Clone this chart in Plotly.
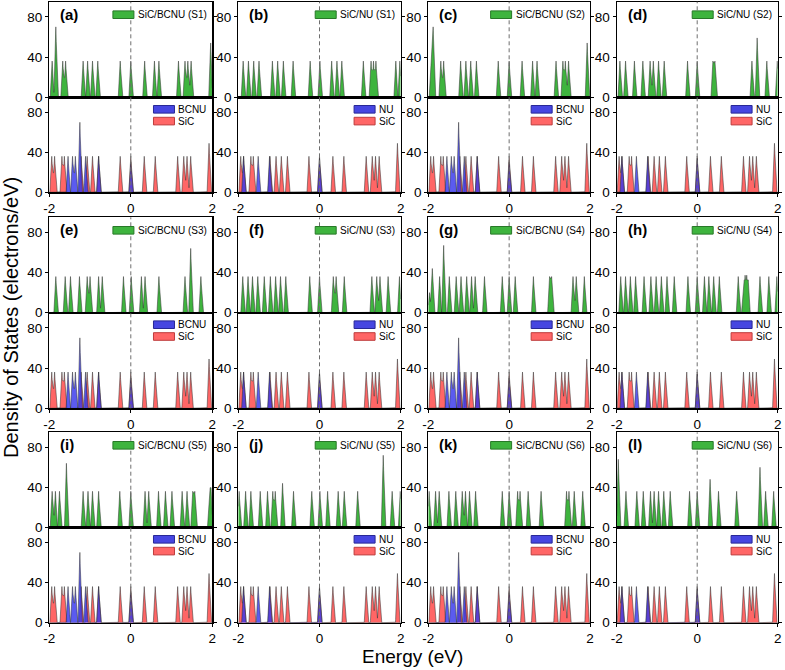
import numpy as np
import plotly.graph_objects as go

# ------------------------------------------------------------------
# DATA (peak energies in eV and peak heights in electrons/eV)
# ------------------------------------------------------------------
X_TICKS = [-2, 0, 2]
X_TICK_TEXT = ["-2", "0", "2"]
Y_TICKS = [0, 40, 80]
Y_TICK_TEXT = ["0", "40", "80"]

PANEL_LABELS = ["(a)", "(b)", "(c)", "(d)", "(e)", "(f)",
                "(g)", "(h)", "(i)", "(j)", "(k)", "(l)"]
TOTAL_NAMES = ["SiC/BCNU (S1)", "SiC/NU (S1)", "SiC/BCNU (S2)", "SiC/NU (S2)",
               "SiC/BCNU (S3)", "SiC/NU (S3)", "SiC/BCNU (S4)", "SiC/NU (S4)",
               "SiC/BCNU (S5)", "SiC/NU (S5)", "SiC/BCNU (S6)", "SiC/NU (S6)"]
ADSORBATE_NAMES = ["BCNU", "NU"] * 6
SUBSTRATE_NAME = "SiC"

# total DOS of each complex (top sub-panels)
a_E = [-1.93, -1.84, -1.67, -1.60, -1.17, -1.06, -0.94, -0.81, -0.26, 0.00, 0.34, 0.58, 0.69, 1.17, 1.33, 1.40, 1.48, 1.96]
a_H = [36, 70, 36, 36, 36, 36, 36, 36, 36, 36, 36, 36, 36, 36, 36, 36, 36, 54]

b_E = [-1.88, -1.75, -1.62, -1.49, -1.16, -1.03, -0.89, -0.65, -0.23, 0.01, 0.30, 0.43, 0.55, 1.08, 1.27, 1.33, 1.39, 1.88, 1.98]
b_H = [36, 36, 36, 36, 36, 36, 36, 36, 36, 36, 36, 36, 36, 36, 36, 36, 36, 36, 36]

c_E = [-1.93, -1.88, -1.69, -1.62, -1.20, -1.07, -0.95, -0.81, -0.27, 0.00, 0.32, 0.58, 0.69, 1.16, 1.33, 1.39, 1.47, 1.93]
c_H = [36, 70, 36, 36, 36, 36, 36, 36, 36, 36, 36, 36, 36, 36, 36, 36, 36, 54]

d_E = [-1.92, -1.78, -1.56, -1.35, -1.17, -1.09, -0.96, -0.82, -0.24, 0.00, 0.39, 0.44, 1.36, 1.49, 1.73, 1.99]
d_H = [36, 36, 36, 36, 36, 36, 36, 36, 36, 36, 36, 36, 36, 59, 36, 36]

e_E = [-1.84, -1.61, -1.48, -1.26, -1.07, -1.00, -0.79, -0.70, -0.18, 0.01, 0.26, 0.35, 0.69, 1.33, 1.47, 1.72]
e_H = [36, 36, 36, 36, 36, 36, 36, 36, 36, 36, 36, 36, 36, 36, 64, 36]

f_E = [-1.89, -1.76, -1.65, -1.52, -1.36, -1.21, -1.08, -0.96, -0.83, -0.24, 0.00, 0.34, 0.41, 0.61, 1.29, 1.41, 1.49, 1.69, 1.97]
f_H = [36, 36, 36, 36, 36, 36, 36, 36, 36, 36, 36, 36, 36, 36, 36, 36, 36, 36, 36]

g_E = [-1.97, -1.90, -1.72, -1.62, -1.48, -1.31, -1.19, -1.05, -0.93, -0.84, -0.61, -0.17, 0.00, 0.15, 0.60, 1.00, 1.05, 1.58, 1.66, 1.86]
g_H = [20, 44, 36, 67, 36, 36, 36, 36, 36, 36, 36, 36, 36, 36, 36, 36, 36, 36, 36, 36]

h_E = [-1.90, -1.78, -1.66, -1.53, -1.32, -1.15, -1.02, -0.89, -0.75, -0.57, -0.23, 0.00, 0.18, 0.29, 0.41, 0.55, 1.02, 1.15, 1.19, 1.23, 1.27, 1.56, 1.78, 1.98]
h_H = [36, 36, 36, 36, 36, 36, 36, 36, 36, 36, 36, 36, 36, 36, 36, 36, 36, 28, 28, 28, 28, 36, 36, 36]

i_E = [-1.93, -1.85, -1.75, -1.58, -1.17, -1.05, -0.94, -0.79, -0.27, 0.00, 0.35, 0.44, 0.68, 0.85, 1.01, 1.26, 1.38, 1.52, 1.57, 1.93, 1.97]
i_H = [36, 36, 36, 64, 36, 36, 36, 36, 36, 36, 36, 36, 36, 36, 36, 36, 36, 36, 36, 34, 34]

j_E = [-1.98, -1.82, -1.69, -1.46, -1.28, -1.15, -1.09, -0.91, -0.64, -0.19, 0.01, 0.20, 0.46, 0.61, 0.94, 1.57, 1.79, 1.99]
j_H = [36, 36, 36, 36, 36, 36, 36, 44, 36, 36, 36, 36, 36, 36, 36, 72, 36, 36]

k_E = [-1.98, -1.82, -1.73, -1.49, -1.32, -1.16, -1.08, -0.98, -0.83, -0.17, 0.00, 0.21, 0.27, 0.47, 0.79, 1.42, 1.48, 1.61, 1.82]
k_H = [36, 36, 36, 36, 36, 36, 36, 36, 36, 36, 36, 36, 36, 36, 36, 36, 36, 36, 36]

l_E = [-1.96, -1.77, -1.50, -1.34, -1.16, -1.07, -0.96, -0.83, -0.67, -0.19, 0.00, 0.32, 0.53, 0.98, 1.56, 1.70, 1.90]
l_H = [68, 36, 36, 36, 36, 36, 36, 36, 36, 36, 36, 48, 36, 36, 60, 36, 36]

# projected DOS (bottom sub-panels)
SIC_E = [-1.94, -1.87, -1.69, -1.63, -1.22, -1.07, -0.94, -0.79, -0.26, 0.00, 0.33, 0.60, 1.15, 1.30, 1.38, 1.47, 1.92]
SIC_H = [36, 36, 36, 36, 36, 36, 36, 36, 36, 36, 36, 36, 36, 36, 36, 36, 49]

BCNU_E = [-1.54, -1.43, -1.36, -1.25, -1.11, -0.79, 0.00]
BCNU_H = [36, 36, 36, 70, 36, 36, 30]

NU_E = [-1.87, -1.51, -1.23, 0.00]
NU_H = [36, 36, 36, 34]

TOTAL_PEAKS = [(a_E, a_H), (b_E, b_H), (c_E, c_H), (d_E, d_H), (e_E, e_H), (f_E, f_H),
               (g_E, g_H), (h_E, h_H), (i_E, i_H), (j_E, j_H), (k_E, k_H), (l_E, l_H)]
ADSORBATE_PEAKS = {"BCNU": (BCNU_E, BCNU_H), "NU": (NU_E, NU_H)}

# ------------------------------------------------------------------
# STYLE / LAYOUT
# ------------------------------------------------------------------
W, H = 785, 670
FONT = "Liberation Sans, Arial, sans-serif"
GREEN = "rgb(62,180,62)"
GREEN_EDGE = "rgb(40,120,40)"
RED = "rgb(255,102,102)"
RED_SW = "rgb(255,102,102)"
RED_EDGE = "rgb(190,60,60)"
BLUE = "rgba(55,55,235,0.82)"
BLUE_SW = "rgb(70,70,225)"
BLUE_EDGE = "rgb(40,40,150)"
OUTLINE = "rgba(55,55,55,0.9)"

COLS_PX = [(49.3, 212.3), (238.3, 400.7), (428.3, 590.0), (616.7, 777.7)]
ROWS_PX = [(1.7, 97.3, 192.3), (217.3, 312.7, 408.3), (432.3, 527.3, 622.7)]
HALF_WIDTH = 0.048
GRID = np.linspace(-2, 2, 1601)

CHAR_W = {"S": .667, "i": .222, "C": .722, "/": .278, "B": .667, "N": .722,
          "U": .722, " ": .278, "(": .333, ")": .333}


def text_width(s, size):
    return sum(CHAR_W.get(ch, .556) for ch in s) * size


def px_x(px):
    return px / W


def px_y(py):
    return 1 - py / H


def broaden(E, Hh):
    y = np.zeros_like(GRID)
    for e, h in zip(E, Hh):
        y += h * np.clip(1 - np.abs(GRID - e) / HALF_WIDTH, 0, None)
    return y


fig = go.Figure()
shapes = []
annotations = []
layout = {}


def axis_setup(n, xdom, ydom, bottom):
    sfx = "" if n == 1 else str(n)
    layout["xaxis" + sfx] = dict(
        domain=xdom, range=[-2, 2], anchor="y" + sfx,
        showline=True, mirror=True, linecolor="black", linewidth=1.2,
        ticks="outside" if bottom else "", ticklen=3, tickwidth=1, tickcolor="black",
        tickvals=X_TICKS, ticktext=X_TICK_TEXT, showticklabels=bottom,
        tickfont=dict(family=FONT, size=13.5, color="black"),
        showgrid=False, zeroline=False, fixedrange=True, automargin=False)
    layout["yaxis" + sfx] = dict(
        domain=ydom, range=[0, 95], anchor="x" + sfx,
        showline=True, mirror="ticks", linecolor="black", linewidth=1.2,
        ticks="outside", ticklen=3, tickwidth=1, tickcolor="black",
        tickvals=Y_TICKS, ticktext=Y_TICK_TEXT,
        tickfont=dict(family=FONT, size=13.5, color="black"),
        showgrid=False, zeroline=False, fixedrange=True, automargin=False)
    return "x" + sfx, "y" + sfx


def legend(entries, right_px, top_px, first_offset):
    size = 10
    maxw = max(text_width(t, size) for t, _, _ in entries)
    text_left = right_px - 7.5 - maxw
    for j, (t, fill, edge) in enumerate(entries):
        cy = top_px + first_offset + j * 11.8
        shapes.append(dict(type="rect", xref="paper", yref="paper",
                           x0=px_x(text_left - 23), x1=px_x(text_left - 2),
                           y0=px_y(cy + 3.8), y1=px_y(cy - 3.8),
                           fillcolor=fill, line=dict(color=edge, width=1), layer="above"))
        annotations.append(dict(text=t, xref="paper", yref="paper",
                                x=px_x(text_left), y=px_y(cy), xanchor="left", yanchor="middle",
                                showarrow=False, font=dict(family=FONT, size=size, color="black")))


for k in range(12):
    r, c = divmod(k, 4)
    x0, x1 = COLS_PX[c]
    ytop, ymid, ybot = ROWS_PX[r]
    xdom = [px_x(x0), px_x(x1)]
    n_top, n_bot = 2 * k + 1, 2 * k + 2
    xa_t, ya_t = axis_setup(n_top, xdom, [px_y(ymid), px_y(ytop)], False)
    xa_b, ya_b = axis_setup(n_bot, xdom, [px_y(ybot), px_y(ymid)], True)

    E, Hh = TOTAL_PEAKS[k]
    fig.add_trace(go.Scatter(x=GRID, y=broaden(E, Hh), mode="lines", fill="tozeroy",
                             fillcolor=GREEN, line=dict(color=OUTLINE, width=0.6),
                             xaxis=xa_t, yaxis=ya_t, showlegend=False, hoverinfo="skip"))

    ads = ADSORBATE_NAMES[k]
    aE, aH = ADSORBATE_PEAKS[ads]
    fig.add_trace(go.Scatter(x=GRID, y=broaden(SIC_E, SIC_H), mode="lines", fill="tozeroy",
                             fillcolor=RED, line=dict(color=OUTLINE, width=0.6),
                             xaxis=xa_b, yaxis=ya_b, showlegend=False, hoverinfo="skip"))
    fig.add_trace(go.Scatter(x=GRID, y=broaden(aE, aH), mode="lines", fill="tozeroy",
                             fillcolor=BLUE, line=dict(color=OUTLINE, width=0.6),
                             xaxis=xa_b, yaxis=ya_b, showlegend=False, hoverinfo="skip"))

    # dashed Fermi level line through both sub-panels
    shapes.append(dict(type="line", xref=xa_b, yref="paper", x0=0, x1=0,
                       y0=px_y(ybot), y1=px_y(ytop),
                       line=dict(color="rgb(110,110,110)", width=1, dash="4px,3px"), layer="above"))

    annotations.append(dict(text="<b>%s</b>" % PANEL_LABELS[k], xref="paper", yref="paper",
                            x=px_x(x0 + 9), y=px_y(ytop + 12.5), xanchor="left", yanchor="middle",
                            showarrow=False, font=dict(family=FONT, size=15, color="black")))

    legend([(TOTAL_NAMES[k], GREEN, GREEN_EDGE)], x1, ytop, 13)
    legend([(ads, BLUE_SW, BLUE_EDGE), (SUBSTRATE_NAME, RED_SW, RED_EDGE)], x1, ymid, 12)

annotations.append(dict(text="Density of States (electrons/eV)", xref="paper", yref="paper",
                        x=px_x(11), y=px_y(318), xanchor="center", yanchor="middle",
                        textangle=-90, showarrow=False,
                        font=dict(family=FONT, size=20, color="black")))
annotations.append(dict(text="Energy (eV)", xref="paper", yref="paper",
                        x=px_x(412), y=px_y(656), xanchor="center", yanchor="middle",
                        showarrow=False, font=dict(family=FONT, size=19, color="black")))

fig.update_layout(width=W, height=H, margin=dict(l=0, r=0, t=0, b=0),
                  paper_bgcolor="white", plot_bgcolor="white",
                  shapes=shapes, annotations=annotations, showlegend=False, **layout)

fig.write_html("out.html",
               config={"displayModeBar": False, "staticPlot": True},
               post_script="document.body.style.margin='0px';document.body.style.padding='0px';"
                           "document.body.style.overflow='hidden';")
